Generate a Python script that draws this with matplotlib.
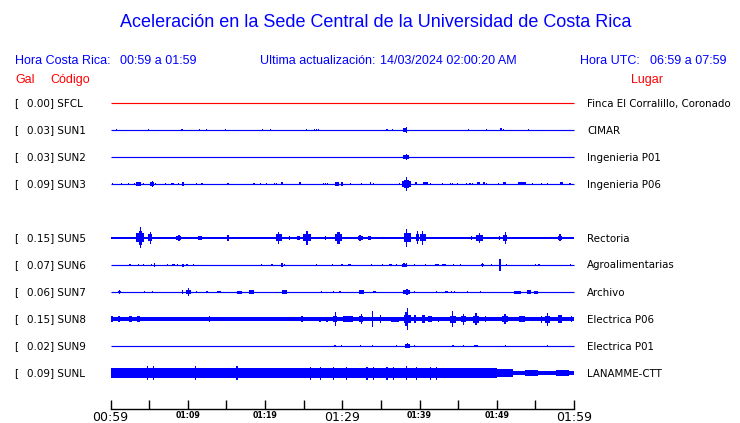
import matplotlib
matplotlib.use('Agg')
import matplotlib.pyplot as plt

W, H = 740, 423
fig = plt.figure(figsize=(7.4, 4.23), dpi=100)

# ---------------- data ----------------
codes = ['SFCL', 'SUN1', 'SUN2', 'SUN3', 'SUN5', 'SUN6', 'SUN7', 'SUN8', 'SUN9', 'SUNL']
gal = ['0.00', '0.03', '0.03', '0.09', '0.15', '0.07', '0.06', '0.15', '0.02', '0.09']
places = ['Finca El Corralillo, Coronado', 'CIMAR', 'Ingenieria P01', 'Ingenieria P06',
          'Rectoria', 'Agroalimentarias', 'Archivo', 'Electrica P06', 'Electrica P01',
          'LANAMME-CTT']
slots = [0, 1, 2, 3, 5, 6, 7, 8, 9, 10]
trace_colors = ['#FF0000'] + ['#0000FF'] * 9

tick_minutes = list(range(0, 61, 5))
tick_labels = ['00:59', '', '01:09', '', '01:19', '', '01:29', '', '01:39', '', '01:49', '', '01:59']
big_labels = ['00:59', '01:29', '01:59']

# baseline segments per trace: (start minute, end minute, half amplitude); 0 = hairline
base_thin = [(0, 60, 0.0)]
base_sun5 = [(0, 60, 1.35)]
base_sun8 = [(0, 60, 1.7)]
base_sunl = [(0, 50, 5.3), (50, 52.15, 4.0), (52.15, 60, 2.3)]

# events per trace: (minute, half amplitude[, duration minutes])
ev_sfcl = []
ev_sun1 = [(0.74, 1.3), (4.95, 1.3), (9.14, 1.3), (9.35, 1.3), (11.54, 1.3), (12.45, 0.8),
           (14.91, 1.3), (19.69, 1.3), (20.73, 1.3), (25.39, 1.3), (26.42, 1.3), (26.64, 1.3),
           (26.9, 0.8), (35.78, 1.3, 0.25), (36.5, 1.3), (38.1, 2.0, 0.6), (38.3, 3.0, 0.2),
           (46.33, 0.8), (48.66, 0.8), (50.52, 1.5, 0.25), (50.86, 1.3), (54.09, 1.3)]
ev_sun2 = [(38.2, 1.7, 0.8), (38.35, 3.0, 0.15)]
ev_sun3 = [(0.22, 1.2), (1.38, 1.2), (2.28, 1.3), (3.10, 1.0), (3.66, 1.7, 0.6), (4.22, 1.2),
           (5.39, 1.8, 0.43), (5.39, 3.3, 0.15), (5.82, 1.0), (7.15, 0.8), (7.97, 1.0), (8.19, 1.0),
           (8.84, 1.3), (9.40, 1.7, 0.26), (11.08, 1.0), (11.85, 1.3), (15.22, 0.8), (18.58, 1.3),
           (19.40, 1.0), (20.21, 1.0), (21.25, 1.0), (21.46, 1.0), (22.20, 1.5, 0.25),
           (24.48, 1.5, 0.26), (27.59, 0.8), (27.80, 0.8), (28.06, 1.0), (29.35, 1.7, 0.52),
           (29.96, 2.3), (31.03, 1.0), (32.50, 1.0), (33.66, 1.5, 0.22), (34.09, 1.2), (37.41, 1.0),
           (38.32, 2.7, 1.16), (38.32, 4.0, 0.6), (38.32, 7.0, 0.15), (39.57, 1.5, 0.3),
           (40.78, 1.5, 0.56), (41.38, 1.2), (42.97, 0.8), (43.97, 1.0), (44.27, 1.0), (44.91, 1.2),
           (46.12, 1.0), (46.42, 1.2), (46.64, 1.2), (46.90, 1.2), (47.63, 1.5, 0.43),
           (48.36, 1.5, 0.3), (48.71, 1.0), (50.21, 1.2, 0.22), (51.03, 1.5, 0.35),
           (53.27, 1.5, 0.95), (54.65, 1.0), (55.82, 1.0), (56.55, 1.0), (58.40, 1.5, 0.3),
           (59.48, 1.0)]
ev_sun5 = [(3.88, 4.5, 1.03), (3.88, 7.0, 0.5), (3.88, 10.5, 0.15), (5.13, 3.5, 0.43),
           (5.13, 6.3, 0.13), (8.84, 2.0, 0.6), (8.84, 3.0, 0.2), (11.64, 2.0, 0.5),
           (15.22, 2.7, 0.15), (15.22, 1.7, 0.3), (17.24, 1.3), (21.77, 3.5, 0.78),
           (21.77, 6.3, 0.2), (23.19, 1.7), (24.35, 2.0, 0.4), (25.47, 3.5, 1.08),
           (25.47, 7.0, 0.2), (27.8, 2.0), (29.52, 3.5, 0.95), (29.52, 6.0, 0.3),
           (32.33, 2.3, 0.7), (32.33, 3.3, 0.2), (33.53, 1.7, 0.4), (36.85, 1.3),
           (38.45, 4.5, 1.0), (38.3, 9.0, 0.2), (39.74, 6.5, 0.15), (39.74, 3.5, 0.3),
           (40.43, 3.5, 0.7), (40.43, 7.0, 0.15), (44.83, 1.3), (46.77, 1.7),
           (47.76, 3.0, 0.85), (47.76, 4.7, 0.2), (50.34, 1.7), (51.08, 3.0, 0.6),
           (51.08, 6.3, 0.15), (51.72, 1.3), (52.37, 1.3), (53.45, 1.3), (54.53, 1.3),
           (55.82, 1.0), (55.3, 1.2, 0.5), (56.5, 1.0, 0.4), (58.19, 2.0, 0.6), (58.19, 3.5, 0.2)]
ev_sun6 = [(2.50, 1.3, 0.3), (3.66, 1.0), (4.31, 1.0), (5.26, 1.2), (5.69, 2.0), (7.33, 0.8),
           (8.10, 1.3, 0.4), (8.71, 1.0), (9.35, 1.5, 0.2), (9.91, 1.3), (10.69, 1.3), (19.53, 1.3),
           (20.9, 1.0), (22.20, 1.7), (22.54, 1.0), (26.68, 1.0), (28.75, 0.8), (29.96, 1.0),
           (30.95, 1.3, 0.3), (33.84, 0.8), (35.22, 1.0), (36.21, 1.3, 0.43), (36.98, 1.0),
           (38.0, 1.5, 0.65), (38.0, 2.2, 0.15), (38.3, 2.0, 0.15), (39.35, 1.0), (40.82, 1.0),
           (42.28, 1.3, 0.5), (43.19, 1.3, 0.5), (44.4, 1.0), (45.26, 1.3), (48.19, 1.3, 0.4),
           (48.19, 2.0, 0.15), (49.27, 1.0), (50.43, 5.7, 0.25), (51.29, 1.0), (55.04, 1.0),
           (55.47, 1.0), (59.57, 1.0)]
ev_sun7 = [(1.21, 1.2, 0.35), (1.21, 2.3, 0.12), (4.40, 0.8), (5.39, 1.0), (9.35, 2.3),
           (10.13, 1.7, 0.6), (10.13, 4.0, 0.15), (11.08, 1.0), (12.50, 0.8), (14.09, 1.3, 0.5),
           (16.68, 1.5, 0.7), (18.23, 1.7, 0.7), (22.5, 1.7, 0.6), (27.28, 1.0), (28.92, 1.0),
           (29.7, 1.0), (32.5, 1.7, 0.6), (34.18, 1.3, 0.3), (38.36, 1.7, 0.9), (38.36, 2.7, 0.3),
           (39.31, 1.0), (42.24, 1.0), (43.49, 1.3, 0.4), (44.18, 1.0), (44.48, 1.0), (46.25, 1.0),
           (47.93, 0.8), (52.63, 1.5, 0.9), (54.18, 1.7, 0.5), (55.04, 1.5, 0.5)]
ev_sun8 = [(0.22, 2.7, 0.3), (1.08, 2.7, 0.3), (1.72, 2.3, 0.3), (2.59, 2.7, 0.4), (3.58, 2.7, 0.4),
           (8.4, 2.0), (9.35, 2.0), (12.8, 2.7), (15.78, 2.3), (19.4, 2.0), (21.0, 2.0), (23.62, 2.0),
           (24.78, 3.3), (27.15, 2.5, 0.3), (28.02, 2.5), (29.09, 3.0, 0.5), (29.09, 6.7, 0.15),
           (30.7, 2.7, 1.3), (32.45, 3.0, 0.6), (32.45, 5.3, 0.15), (33.92, 8.3, 0.15),
           (34.91, 4.0), (36.8, 2.5, 1.0), (38.49, 4.0, 0.9), (38.49, 11.3, 0.15), (38.3, 7.0, 0.3),
           (39.4, 4.0, 0.2), (40.52, 3.7, 0.5), (41.38, 3.0, 0.6), (42.46, 2.5), (44.31, 3.5, 0.8),
           (44.31, 8.0, 0.15), (45.69, 3.0, 0.6), (45.69, 5.5, 0.15), (47.28, 3.5, 0.8),
           (47.28, 6.0, 0.2), (48.49, 3.0), (51.08, 3.0, 0.8), (51.08, 5.0, 0.2), (53.23, 3.0, 0.8),
           (55.82, 3.5), (56.55, 3.5, 0.7), (56.55, 6.5, 0.15), (58.19, 4.0, 0.6), (59.7, 3.0)]
ev_sun9 = [(29.09, 1.3, 0.25), (29.91, 1.0), (32.41, 1.0), (33.92, 1.0), (36.98, 1.0),
           (38.45, 2.0, 0.6), (38.4, 2.5, 0.15), (39.4, 0.8), (44.31, 1.3, 0.25), (45.69, 1.0),
           (47.33, 1.3, 0.5), (51.08, 1.3), (56.55, 1.0)]
ev_sunl = [(4.74, 6.7), (5.6, 6.7), (10.99, 6.7), (16.38, 6.7), (25.86, 6.5), (27.15, 6.5),
           (28.88, 6.5), (30.6, 6.5), (33.2, 6.5), (34.05, 6.5), (35.8, 6.5), (36.6, 6.5),
           (38.36, 6.7), (39.65, 6.5), (41.4, 6.5), (42.24, 6.5), (54.5, 3.3, 1.7), (58.5, 3.0, 1.7)]

baselines = [base_thin, base_thin, base_thin, base_thin, base_sun5, base_thin, base_thin,
             base_sun8, base_thin, base_sunl]
events = [ev_sfcl, ev_sun1, ev_sun2, ev_sun3, ev_sun5, ev_sun6, ev_sun7, ev_sun8, ev_sun9, ev_sunl]

# ---------------- layout helpers ----------------
def fx(px):
    return px / W

def fy(py):
    return 1 - py / H

SP = 27.0          # pixels between trace slots
Y0 = 103.0         # pixel y of first slot
AX_L, AX_R, AX_T, AX_B = 110.5, 574.0, 92.0, 409.0

ax = fig.add_axes([fx(AX_L), fy(AX_B), fx(AX_R) - fx(AX_L), fy(AX_T) - fy(AX_B)])
ax.set_xlim(0, 60)
ax.set_ylim((AX_B - Y0) / SP, (AX_T - Y0) / SP)

DEFAULT_W = 0.15
for slot, segs, evs, col in zip(slots, baselines, events, trace_colors):
    for (t0, t1, a) in segs:
        if a == 0:
            ax.hlines(slot, t0, t1, colors=col, linewidth=0.85, clip_on=False)
        else:
            h = a / SP
            ax.bar(t0, 2 * h, bottom=slot - h, width=t1 - t0, align='edge', color=col,
                   linewidth=0, antialiased=False, clip_on=False)
    for ev in evs:
        t, a = ev[0], ev[1]
        w = ev[2] if len(ev) > 2 else DEFAULT_W
        h = a / SP
        ax.bar(t, 2 * h, bottom=slot - h, width=w, align='center', color=col,
               linewidth=0, antialiased=False, clip_on=False)

for s in ['top', 'left', 'right']:
    ax.spines[s].set_visible(False)
ax.spines['bottom'].set_linewidth(1.0)
ax.set_yticks([])
ax.set_xticks(tick_minutes)
ax.set_xticklabels(tick_labels)
ax.tick_params(axis='x', direction='in', length=6.5, width=1.0, pad=1.5)
for lab in ax.get_xticklabels():
    lab.set_fontfamily('DejaVu Sans')
    if lab.get_text() in big_labels:
        lab.set_fontsize(9)
    else:
        lab.set_fontsize(5.7)
        lab.set_fontweight('bold')

# ---------------- texts ----------------
BLUE = '#0000FF'
RED = '#FF0000'
HF = 'Liberation Sans'

fig.text(fx(376), fy(22.5), 'Aceleración en la Sede Central de la Universidad de Costa Rica',
         ha='center', va='center', fontsize=13, color=BLUE, family=HF)

fig.text(fx(15), fy(61), 'Hora Costa Rica:', ha='left', va='center', fontsize=9, color=BLUE, family=HF)
fig.text(fx(120.5), fy(61), '00:59 a 01:59', ha='left', va='center', fontsize=9, color=BLUE, family=HF)
fig.text(fx(260), fy(61), 'Ultima actualización:', ha='left', va='center', fontsize=9, color=BLUE, family=HF)
fig.text(fx(380), fy(61), '14/03/2024 02:00:20 AM', ha='left', va='center', fontsize=9, color=BLUE, family=HF)
fig.text(fx(580.5), fy(61), 'Hora UTC:', ha='left', va='center', fontsize=9, color=BLUE, family=HF)
fig.text(fx(650.5), fy(61), '06:59 a 07:59', ha='left', va='center', fontsize=9, color=BLUE, family=HF)

fig.text(fx(15), fy(80), 'Gal', ha='left', va='center', fontsize=9, color=RED, family=HF)
fig.text(fx(50), fy(80), 'Código', ha='left', va='center', fontsize=9, color=RED, family=HF)
fig.text(fx(631), fy(80), 'Lugar', ha='left', va='center', fontsize=9, color=RED, family=HF)

for slot, code, g, place in zip(slots, codes, gal, places):
    py = Y0 + SP * slot + 0.5
    fig.text(fx(14.5), fy(py), '[', ha='left', va='center', fontsize=7.5, family='DejaVu Sans')
    fig.text(fx(27.3), fy(py), f'{g}] {code}', ha='left', va='center', fontsize=7.5,
             family='DejaVu Sans')
    fig.text(fx(587.3), fy(py), place, ha='left', va='center', fontsize=7.4, family='DejaVu Sans')

fig.savefig('out.png', dpi=100)
